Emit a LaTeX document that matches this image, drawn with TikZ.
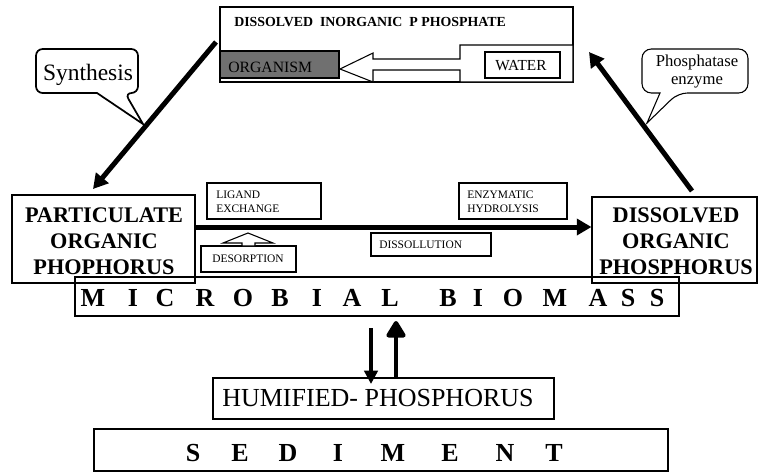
\documentclass[tikz,border=0pt]{standalone}
\usepackage{fontspec}
\setmainfont{Liberation Serif}
\usetikzlibrary{arrows.meta, fit}
\definecolor{orgfill}{gray}{0.44}

\begin{document}
\begin{tikzpicture}[x=0.75pt, y=-0.75pt,
  box/.style={draw, line width=0.8pt, inner sep=0pt},
  tag/.style={font=\fontsize{8.6}{10.5}\selectfont, align=left, anchor=west, inner sep=0pt},
  big/.style={font=\fontsize{16.7}{19.5}\selectfont\bfseries, align=center, inner sep=0pt},
  spaced/.style={font=\fontsize{19.5}{21}\selectfont\bfseries, inner sep=0pt},
  heavy/.style={line width=3.75pt, -{Triangle[length=11pt, width=12pt]}}]

\useasboundingbox (0,0) rectangle (758,472);

%\draw[step=50, gray!40] (0,0) grid (758,472);

% dissolved inorganic P with organism and water
\node[box, fit={(220,7) (573,82)}] (dip) {};
\node[anchor=west, inner sep=0pt, font=\fontsize{10.4}{12}\selectfont\bfseries] (diptxt) at (234,22) {DISSOLVED\ \ INORGANIC\ \ P PHOSPHATE};
\node[box, fill=orgfill, fit={(220,51) (339,78)}] (org) {};
\node[anchor=west, inner sep=0pt, font=\fontsize{11.8}{13}\selectfont] (orgtxt) at (228,67) {ORGANISM};
\draw[line width=0.8pt, fill=white] (340,69) -- (373,53) -- (373,59) -- (460,59) -- (460,45) -- (573,45)
  -- (573,82) -- (460,82) -- (460,70) -- (373,70) -- (373,82) -- cycle;
\node[box, fit={(485,52) (560,78)}] (water) {};
\node[font=\fontsize{11.5}{13}\selectfont, inner sep=0pt] (watertxt) at (521,65.5) {WATER};

% speech bubbles
\draw[line width=1.3pt, fill=white] (143,124) -- (97,93) [rounded corners=5pt] -- (36,93) -- (36,49) -- (138,49) -- (138,93) -- (125,93) [sharp corners] -- cycle;
\node[anchor=base, inner sep=0pt, font=\fontsize{17.6}{20}\selectfont] (syn) at (88,80) {Synthesis};
\draw[line width=0.8pt, fill=white] (647,123) -- (660,93) [rounded corners=7pt] -- (642,93) -- (642,49) -- (748,49) -- (748,93) -- (678,93) [sharp corners] -- cycle;
\node[align=center, inner sep=0pt, font=\fontsize{12.5}{13.5}\selectfont] (ptase) at (697,72) {Phosphatase\\enzyme};

% organic phosphorus pools
\node[box, fit={(12,195) (195,283)}] (pop) {};
\node[big] (poptxt) at (104,241) {PARTICULATE\\ORGANIC\\PHOPHORUS};
\node[box, fit={(592,197) (757,283)}] (dop) {};
\node[big] (doptxt) at (676,241) {DISSOLVED\\ORGANIC\\PHOSPHORUS};

\node[box, fit={(207,183) (321,219)}] (lig) {};
\node[tag] (ligtxt) at (216,202) {LIGAND\\EXCHANGE};
\node[box, fit={(459,183) (567,219)}] (enz) {};
\node[tag] (enztxt) at (467,202) {ENZYMATIC\\HYDROLYSIS};
\node[box, fit={(201,246) (296,272)}] (des) {};
\node[tag, anchor=center] (destxt) at (248,258.5) {DESORPTION};
\draw[line width=0.8pt, fill=white] (248,233) -- (273,243) -- (255,243) -- (255,246) -- (242,246) -- (242,243) -- (223,243) -- cycle;
\node[box, fit={(371,233) (491,256)}] (dis) {};
\node[tag] (distxt) at (379,245) {DISSOLLUTION};

% main fluxes
\coordinate (synA) at (216,42);
\coordinate (synB) at (93,189);
\coordinate (ptA) at (692,191);
\coordinate (ptB) at (589,52);
\coordinate (flow) at (0,227);
\draw[heavy] (synA) -- (synB);
\draw[heavy] (ptA) -- (ptB);
\draw[heavy] (pop.east |- flow) -- (dop.west |- flow);

% microbial biomass
\node[box, fit={(75,277) (679,316)}] (mb) {};
\foreach \x/\l in {93/M,133/I,165/C,205/R,243/O,280/B,317/I,352/A,390/L,448/B,478/I,513/O,555/M,598/A,628/S,657/S}
  \node[spaced] (mb\x) at (\x,298) {\l};

% humified phosphorus and sediment
\node[box, fit={(213,378) (554,419)}] (hum) {};
\node[font=\fontsize{19.5}{22}\selectfont, inner sep=0pt] (humtxt) at (378,398) {HUMIFIED- PHOSPHORUS};
\coordinate (dnA) at (371,328);
\coordinate (upB) at (396,321);
\draw[line width=2.8pt, -{Triangle[length=10pt, width=10pt]}] (dnA) -- (dnA |- 0,384);
\draw[line width=3.2pt, -{Triangle[length=14pt, width=16pt, round]}] (upB |- hum.north) -- (upB);

\node[box, fit={(94,429) (668,471)}] (sed) {};
\foreach \x/\l in {193/S,240/E,288/D,338/I,393/M,450/E,505/N,554/T}
  \node[spaced] (sed\x) at (\x,453) {\l};

\end{tikzpicture}
\end{document}
